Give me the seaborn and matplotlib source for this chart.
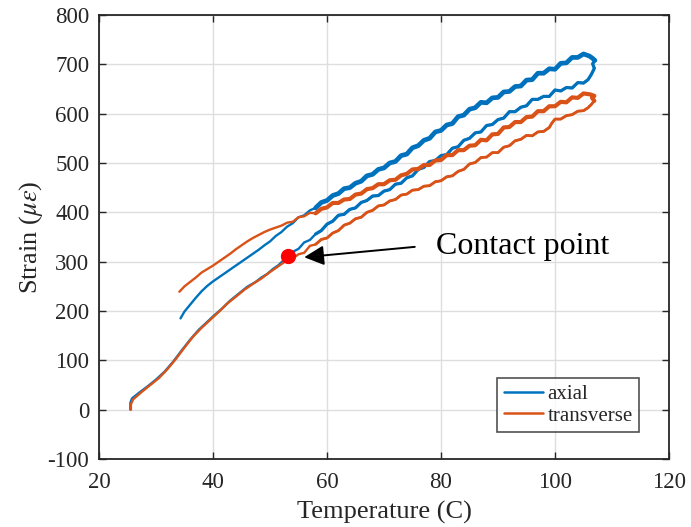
import numpy as np
import pandas as pd
import matplotlib
matplotlib.use("Agg")
import matplotlib.pyplot as plt
import seaborn as sns

# Axial strain gauge: heating branch (from 25.5 C) then cooling branch back to 34 C
axial_temp = [
    25.5, 25.5, 25.8, 27.0, 28.5, 30.0, 31.5, 33.0, 34.5, 36.0, 37.5, 39.0, 40.0,
    41.5, 43.0, 44.5, 46.0, 47.5, 48.5, 49.5, 50.5, 51.5, 52.3, 53.1,
    54, 55, 56, 57, 58, 59, 60, 61, 62, 63, 64, 65, 66, 67, 68, 69, 70, 71, 72,
    73, 74, 75, 76, 77, 78, 79, 80, 81, 82, 83, 84, 85, 86, 87, 88, 89, 90, 91,
    92, 93, 94, 95, 96, 97, 98, 99, 100, 101, 102, 103, 104, 105, 105.8,
    106.4, 106.9, 106.6, 107.0, 106.5, 106.0,
    105, 104, 103, 102, 101, 100, 99, 98, 97, 96, 95, 94, 93, 92, 91, 90, 89,
    88, 87, 86, 85, 84, 83, 82, 81, 80, 79, 78, 77, 76, 75, 74, 73, 72, 71, 70,
    69, 68, 67, 66, 65, 64, 63, 62, 61, 60, 59, 58, 57, 56, 55, 54, 53, 52,
    51, 50, 49, 48, 47, 46, 45, 44, 43, 42, 41, 40, 39, 38, 37, 36, 35, 34.3,
]
axial_strain = [
    0, 14, 23, 34, 47, 61, 77, 97, 120, 142, 162, 178, 189,
    204, 221, 235, 249, 259, 268, 275, 285, 293, 302, 311,
    320, 326, 339, 344, 356, 363, 376, 382, 394, 396, 406, 409, 420, 424, 433,
    434, 443, 446, 457, 459, 470, 474, 487, 491, 503, 505, 515, 517, 530, 533,
    546, 550, 561, 563, 576, 578, 588, 591, 604, 604, 613, 616, 629, 629, 635,
    635, 648, 646, 653, 652, 663, 662, 669,
    680, 692, 701, 708, 713, 717,
    721, 714, 714, 703, 702, 690, 691, 682, 682, 669, 668, 656, 655, 645, 644,
    633, 632, 622, 623, 612, 609, 597, 594, 580, 577, 566, 563, 550, 546, 535,
    531, 518, 515, 503, 500, 490, 487, 477, 474, 463, 459, 450, 448, 438, 434,
    424, 420, 409, 404, 394, 390, 378, 371, 360,
    352, 341, 333, 324, 316, 308, 300, 292, 284, 276, 268, 260, 251, 240, 227,
    213, 199, 185,
]

# Transverse strain gauge, same thermal cycle
transverse_temp = [
    25.6, 25.6, 26.0, 27.5, 29.0, 30.5, 32.0, 33.5, 35.0, 36.5, 38.0, 39.5, 41.0,
    42.5, 44.0, 45.5, 47.0, 48.5, 50.0, 51.5, 53.0, 54.4,
    55, 56, 57, 58, 59, 60, 61, 62, 63, 64, 65, 66, 67, 68, 69, 70, 71, 72, 73,
    74, 75, 76, 77, 78, 79, 80, 81, 82, 83, 84, 85, 86, 87, 88, 89, 90, 91, 92,
    93, 94, 95, 96, 97, 98, 99, 99.4, 100, 101, 102, 103, 104, 105, 105.8,
    106.4, 106.9, 106.5, 106.9, 106.2,
    105, 104, 103, 102, 101, 100, 99, 98, 97, 96, 95, 94, 93, 92, 91, 90, 89,
    88, 87, 86, 85, 84, 83, 82, 81, 80, 79, 78, 77, 76, 75, 74, 73, 72, 71, 70,
    69, 68, 67, 66, 65, 64, 63, 62, 61, 60, 59, 58, 57, 56, 55, 54, 53,
    52, 51, 50, 49, 48, 47, 46, 45, 44, 43, 42, 41, 40, 39, 38, 37, 36, 35, 34.1,
]
transverse_strain = [
    0, 11, 21, 36, 50, 64, 82, 103, 126, 148, 166, 182, 198,
    215, 229, 243, 255, 266, 279, 291, 303, 310,
    315, 318, 332, 335, 345, 348, 358, 363, 374, 378, 387, 390, 400, 404, 413,
    415, 423, 426, 435, 437, 445, 446, 453, 454, 462, 464, 472, 474, 483, 487,
    498, 501, 511, 512, 521, 521, 532, 535, 545, 548, 556, 555, 563, 564, 572,
    580, 589, 589, 596, 598, 605, 606, 612,
    619, 626, 632, 636, 639,
    641, 632, 633, 623, 624, 615, 615, 605, 605, 594, 593, 583, 583, 573, 572,
    559, 558, 546, 547, 536, 535, 526, 526, 516, 516, 506, 505, 496, 496, 488,
    487, 478, 475, 466, 465, 457, 457, 449, 447, 438, 436, 427, 426, 419, 419,
    410, 407, 398, 399, 392, 390, 381, 379,
    373, 369, 365, 360, 354, 348, 341, 333, 325, 316, 308, 300, 292, 285, 278,
    268, 259, 250, 239,
]

series_names = ["axial", "transverse"]
series_colors = ["#0072BD", "#D95319"]

contact_temp = 53.1
contact_strain = 311
contact_label = "Contact point"

x_ticks = [20, 40, 60, 80, 100, 120]
y_ticks = [-100, 0, 100, 200, 300, 400, 500, 600, 700, 800]

df = pd.concat([
    pd.DataFrame({"Temperature": axial_temp, "Strain": axial_strain,
                  "gauge": series_names[0]}),
    pd.DataFrame({"Temperature": transverse_temp, "Strain": transverse_strain,
                  "gauge": series_names[1]}),
], ignore_index=True)

sns.set_style("white")
plt.rcParams["font.family"] = ["Liberation Serif", "DejaVu Serif"]
plt.rcParams["mathtext.fontset"] = "stix"

fig = plt.figure(figsize=(6.91, 5.27), dpi=100)
ax = fig.add_axes([99 / 691, 1 - 459 / 527, 570 / 691, 444 / 527])

sns.lineplot(data=df, x="Temperature", y="Strain", hue="gauge",
             palette=dict(zip(series_names, series_colors)),
             sort=False, estimator=None, lw=1.7, ax=ax, zorder=3)


def thicken_noisy(temp, strain, color, lw_heat, lw_cool, t_min=58):
    """Redraw the high-temperature part of each branch with a heavier stroke,
    where the gauge signal is noisier."""
    t = np.asarray(temp, dtype=float)
    s = np.asarray(strain, dtype=float)
    k = int(np.argmax(t))
    heat = np.where(t[:k + 1] >= t_min)[0]
    cool = np.where(t[k:] >= t_min)[0] + k
    kw = dict(color=color, solid_capstyle="round", solid_joinstyle="round",
              zorder=3)
    ax.plot(t[heat[0]:k + 1], s[heat[0]:k + 1], lw=lw_heat, **kw)
    ax.plot(t[k:cool[-1] + 1], s[k:cool[-1] + 1], lw=lw_cool, **kw)


thicken_noisy(axial_temp, axial_strain, series_colors[0], 2.3, 3.4)
thicken_noisy(transverse_temp, transverse_strain, series_colors[1], 2.0, 3.0)

ax.plot([contact_temp], [contact_strain], "o", color="#FF0000", ms=11,
        mec="none", zorder=5)
ax.annotate("", xy=(contact_temp + 2.9, contact_strain - 2),
            xytext=(contact_temp + 22.3, contact_strain + 19),
            arrowprops=dict(arrowstyle="-|>", color="black", lw=1.4,
                        mutation_scale=30, shrinkA=0, shrinkB=0), zorder=6)
ax.text(contact_temp + 26.0, contact_strain + 20, contact_label,
        fontsize=23, color="black", va="center", ha="left", zorder=6)

ax.set_xlim(20, 120)
ax.set_ylim(-100, 800)
ax.set_xticks(x_ticks)
ax.set_yticks(y_ticks)
ax.set_xticklabels([str(v) for v in x_ticks])
ax.set_yticklabels([str(v) for v in y_ticks])
ax.grid(True, color="#DEDEDE", lw=1.0, zorder=0)
ax.set_axisbelow(True)
for s in ax.spines.values():
    s.set_color("#262626")
    s.set_linewidth(1.3)
    s.set_visible(True)
ax.tick_params(axis="both", direction="in", length=5, width=1.0,
               colors="#262626", labelsize=16.5, top=True, right=True,
               bottom=True, left=True)
ax.tick_params(axis="x", pad=9)
ax.tick_params(axis="y", pad=7)

ax.set_xlabel("Temperature (C)", fontsize=19, color="#262626", labelpad=6)
ax.set_ylabel(r"Strain ($\mu\epsilon$)", fontsize=19, color="#262626", labelpad=1.5)

leg = ax.legend(loc="lower right", bbox_to_anchor=(0.947, 0.061),
                borderaxespad=0, fontsize=15, frameon=True, fancybox=False,
                handlelength=1.9, handletextpad=0.2, labelspacing=0.1,
                borderpad=0.3)
leg.get_frame().set_edgecolor("#262626")
leg.get_frame().set_linewidth(1.2)
for line in leg.get_lines():
    line.set_linewidth(1.8)

fig.savefig("out.png", dpi=100)
